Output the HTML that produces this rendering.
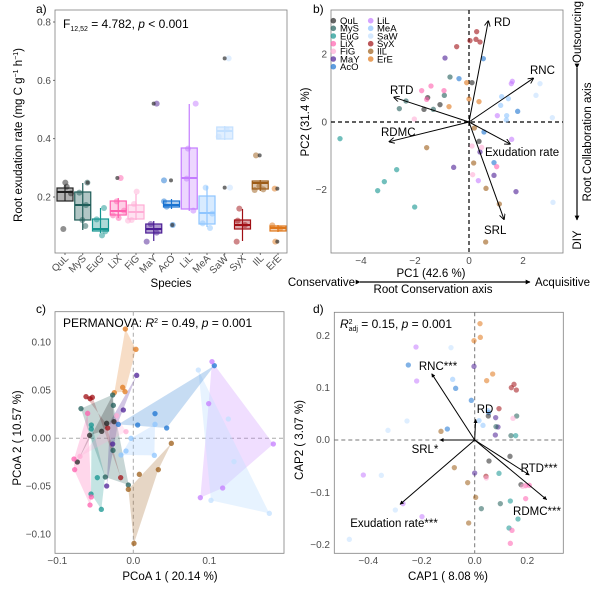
<!DOCTYPE html>
<html><head><meta charset="utf-8"><style>html,body{margin:0;padding:0;background:#fff}svg{display:block}text{font-family:"Liberation Sans",sans-serif}</style></head><body>
<svg width="600" height="595" viewBox="0 0 600 595" xmlns="http://www.w3.org/2000/svg">
<defs>
<marker id="ah" viewBox="0 0 10 10" refX="9" refY="5" markerWidth="6" markerHeight="6" orient="auto"><path d="M0,0 L10,5 L0,10" fill="none" stroke="#000" stroke-width="1.5"/></marker>
<marker id="ah2" viewBox="0 0 10 10" refX="9" refY="5" markerWidth="4" markerHeight="4" orient="auto"><path d="M0,0 L10,5 L0,10 z" fill="#000"/></marker>
</defs>
<!-- ============ PANEL A ============ -->
<text x="36" y="13" font-size="12">a)</text>
<rect x="55" y="10" width="232" height="243" fill="none" stroke="#7f7f7f" stroke-width="0.8"/>
<g font-size="10" fill="#4d4d4d" text-anchor="end">
<text x="51" y="25.5">0.8</text><text x="51" y="84">0.6</text><text x="51" y="142">0.4</text><text x="51" y="200.5">0.2</text></g>
<g stroke="#4d4d4d" stroke-width="0.8"><line x1="53" x2="55" y1="22" y2="22"/><line x1="53" x2="55" y1="80.3" y2="80.3"/><line x1="53" x2="55" y1="138.7" y2="138.7"/><line x1="53" x2="55" y1="197" y2="197"/></g>
<text transform="translate(22,135) rotate(-90)" font-size="11.5" text-anchor="middle">Root exudation rate (mg C g<tspan dy="-4" font-size="7">−1</tspan><tspan dy="4"> h</tspan><tspan dy="-4" font-size="7">−1</tspan><tspan dy="4">)</tspan></text>
<text x="63" y="28" font-size="12">F<tspan font-size="7" dy="3">12,52</tspan><tspan dy="-3"> = 4.782, </tspan><tspan font-style="italic">p</tspan> &lt; 0.001</text>
<g stroke-width="1.2">
<!-- x, top, bottom, median, wtop, wbot, color -->
<g stroke="#222" fill="rgba(34,34,34,0.35)"><line x1="65" x2="65" y1="185" y2="201"/><rect x="57" y="188" width="16" height="13"/><line x1="57" x2="73" y1="192" y2="192" stroke-width="2"/></g>
<g stroke="#1f5c58" fill="rgba(31,92,88,0.35)"><line x1="82.75" x2="82.75" y1="183" y2="230"/><rect x="74.75" y="192" width="16" height="28"/><line x1="74.75" x2="90.75" y1="205" y2="205" stroke-width="2"/></g>
<g stroke="#13948f" fill="rgba(19,148,143,0.35)"><line x1="100.5" x2="100.5" y1="208" y2="233"/><rect x="92.5" y="219" width="16" height="12"/><line x1="92.5" x2="108.5" y1="229" y2="229" stroke-width="2"/></g>
<g stroke="#ff5fae" fill="rgba(255,95,174,0.3)"><line x1="118.25" x2="118.25" y1="198" y2="218"/><rect x="110.25" y="201" width="16" height="14"/><line x1="110.25" x2="126.25" y1="211" y2="211" stroke-width="2"/></g>
<g stroke="#ffadd6" fill="rgba(255,173,214,0.35)"><line x1="136" x2="136" y1="194" y2="220"/><rect x="128" y="205" width="16" height="14"/><line x1="128" x2="144" y1="212" y2="212" stroke-width="2"/></g>
<g stroke="#4b1d94" fill="rgba(75,29,148,0.45)"><line x1="153.75" x2="153.75" y1="221" y2="241"/><rect x="145.75" y="224" width="16" height="9"/><line x1="145.75" x2="161.75" y1="229" y2="229" stroke-width="2"/></g>
<g stroke="#1a73d1" fill="rgba(26,115,209,0.35)"><line x1="171.5" x2="171.5" y1="199" y2="209"/><rect x="163.5" y="201" width="16" height="6"/><line x1="163.5" x2="179.5" y1="205" y2="205" stroke-width="2"/></g>
<g stroke="#c47cff" fill="rgba(196,124,255,0.3)"><line x1="189.25" x2="189.25" y1="104" y2="211"/><rect x="181.25" y="148" width="16" height="61"/><line x1="181.25" x2="197.25" y1="178" y2="178" stroke-width="2"/></g>
<g stroke="#8ec5ff" fill="rgba(142,197,255,0.35)"><line x1="207" x2="207" y1="186" y2="227"/><rect x="199" y="196" width="16" height="28"/><line x1="199" x2="215" y1="213" y2="213" stroke-width="2"/></g>
<g stroke="#c3e0ff" fill="rgba(195,224,255,0.5)"><line x1="224.75" x2="224.75" y1="126" y2="140"/><rect x="216.75" y="127" width="16" height="12"/><line x1="216.75" x2="232.75" y1="131" y2="131" stroke-width="2"/></g>
<g stroke="#a00f14" fill="rgba(160,15,20,0.35)"><line x1="242.5" x2="242.5" y1="209" y2="241"/><rect x="234.5" y="220" width="16" height="9"/><line x1="234.5" x2="250.5" y1="225" y2="225" stroke-width="2"/></g>
<g stroke="#9c5c16" fill="rgba(156,92,22,0.35)"><line x1="260.25" x2="260.25" y1="180" y2="191"/><rect x="252.25" y="181" width="16" height="8"/><line x1="252.25" x2="268.25" y1="183" y2="183" stroke-width="2"/></g>
<g stroke="#e0771a" fill="rgba(224,119,26,0.35)"><line x1="278" x2="278" y1="225" y2="232"/><rect x="270" y="226" width="16" height="5"/><line x1="270" x2="286" y1="228" y2="228" stroke-width="2"/></g>
</g>
<g transform="scale(0.33333)" fill-opacity="0.5">
<g fill="#222"><circle cx="196" cy="548" r="9"/><circle cx="213" cy="580" r="9"/><circle cx="190" cy="687" r="9"/><circle cx="200" cy="560" r="9"/></g>
<g fill="#1f5c58"><circle cx="262" cy="548" r="9"/><circle cx="238" cy="578" r="9"/><circle cx="258" cy="615" r="9"/><circle cx="247" cy="660" r="9"/><circle cx="256" cy="678" r="9"/></g>
<g fill="#13948f"><circle cx="312" cy="624" r="9"/><circle cx="290" cy="658" r="9"/><circle cx="306" cy="706" r="9"/><circle cx="316" cy="694" r="9"/></g>
<g fill="#ff5fae"><circle cx="362" cy="534" r="9"/><circle cx="350" cy="604" r="9"/><circle cx="372" cy="632" r="9"/><circle cx="356" cy="654" r="9"/><circle cx="339" cy="646" r="9"/></g>
<g fill="#ffadd6"><circle cx="410" cy="575" r="9"/><circle cx="402" cy="612" r="9"/><circle cx="395" cy="660" r="9"/><circle cx="384" cy="662" r="9"/></g>
<g fill="#4b1d94"><circle cx="470" cy="311" r="9"/><circle cx="440" cy="725" r="9"/><circle cx="452" cy="672" r="9"/><circle cx="470" cy="698" r="9"/></g>
<g fill="#1a73d1"><circle cx="492" cy="541" r="9"/><circle cx="492" cy="604" r="9"/><circle cx="518" cy="675" r="9"/><circle cx="500" cy="620" r="9"/></g>
<g fill="#c47cff"><circle cx="587" cy="311" r="9"/><circle cx="564" cy="446" r="9"/><circle cx="560" cy="536" r="9"/><circle cx="580" cy="632" r="9"/></g>
<g fill="#8ec5ff"><circle cx="617" cy="563" r="9"/><circle cx="630" cy="684" r="9"/><circle cx="608" cy="670" r="9"/><circle cx="637" cy="641" r="9"/></g>
<g fill="#c3e0ff"><circle cx="686" cy="175" r="9"/><circle cx="690" cy="563" r="9"/><circle cx="656" cy="410" r="9"/><circle cx="680" cy="388" r="9"/></g>
<g fill="#a00f14"><circle cx="718" cy="626" r="9"/><circle cx="710" cy="725" r="9"/><circle cx="735" cy="675" r="9"/><circle cx="713" cy="662" r="9"/></g>
<g fill="#9c5c16"><circle cx="768" cy="466" r="9"/><circle cx="790" cy="568" r="9"/><circle cx="764" cy="570" r="9"/><circle cx="778" cy="558" r="9"/></g>
<g fill="#e0771a"><circle cx="824" cy="566" r="9"/><circle cx="826" cy="725" r="9"/><circle cx="817" cy="676" r="9"/><circle cx="840" cy="686" r="9"/></g>
<g fill="#333" fill-opacity="0.7"><circle cx="263" cy="548" r="6"/><circle cx="352" cy="534" r="6"/><circle cx="461" cy="311" r="6"/><circle cx="513" cy="541" r="6"/><circle cx="517" cy="675" r="6"/><circle cx="674" cy="175" r="6"/><circle cx="674" cy="563" r="6"/><circle cx="779" cy="466" r="6"/><circle cx="832" cy="566" r="6"/><circle cx="832" cy="725" r="6"/></g>
</g>
<g stroke="#4d4d4d" stroke-width="0.8">
<line x1="65" x2="65" y1="253" y2="255"/><line x1="82.75" x2="82.75" y1="253" y2="255"/><line x1="100.5" x2="100.5" y1="253" y2="255"/><line x1="118.25" x2="118.25" y1="253" y2="255"/><line x1="136" x2="136" y1="253" y2="255"/><line x1="153.75" x2="153.75" y1="253" y2="255"/><line x1="171.5" x2="171.5" y1="253" y2="255"/><line x1="189.25" x2="189.25" y1="253" y2="255"/><line x1="207" x2="207" y1="253" y2="255"/><line x1="224.75" x2="224.75" y1="253" y2="255"/><line x1="242.5" x2="242.5" y1="253" y2="255"/><line x1="260.25" x2="260.25" y1="253" y2="255"/><line x1="278" x2="278" y1="253" y2="255"/></g>
<g font-size="10" fill="#4d4d4d" text-anchor="end">
<text transform="translate(69,259) rotate(-45)">QuL</text><text transform="translate(86.75,259) rotate(-45)">MyS</text><text transform="translate(104.5,259) rotate(-45)">EuG</text><text transform="translate(122.25,259) rotate(-45)">LiX</text><text transform="translate(140,259) rotate(-45)">FiG</text><text transform="translate(157.75,259) rotate(-45)">MaY</text><text transform="translate(175.5,259) rotate(-45)">AcO</text><text transform="translate(193.25,259) rotate(-45)">LiL</text><text transform="translate(211,259) rotate(-45)">MeA</text><text transform="translate(228.75,259) rotate(-45)">SaW</text><text transform="translate(246.5,259) rotate(-45)">SyX</text><text transform="translate(264.25,259) rotate(-45)">IlL</text><text transform="translate(282,259) rotate(-45)">ErE</text></g>
<text x="171" y="287" font-size="11.5" text-anchor="middle">Species</text>

<!-- ============ PANEL B ============ -->
<text x="313" y="13" font-size="12">b)</text>
<rect x="331" y="10" width="232" height="243" fill="none" stroke="#7f7f7f" stroke-width="0.8"/>
<g stroke="#000" stroke-width="1.2" stroke-dasharray="4,3"><line x1="331" x2="563" y1="122" y2="122"/><line x1="469" x2="469" y1="10" y2="253"/></g>
<g transform="translate(300,0) scale(0.33333)" fill-opacity="0.6">
<g fill="#a00f14"><circle cx="530" cy="95" r="8"/><circle cx="510" cy="122" r="8"/><circle cx="528" cy="118" r="8"/><circle cx="540" cy="126" r="8"/><circle cx="470" cy="140" r="8"/></g>
<g fill="#1a73d1"><circle cx="550" cy="176" r="8"/><circle cx="477" cy="236" r="8"/><circle cx="582" cy="488" r="8"/><circle cx="552" cy="396" r="8"/><circle cx="653" cy="334" r="8"/></g>
<g fill="#4b1d94"><circle cx="435" cy="174" r="8"/><circle cx="461" cy="502" r="8"/><circle cx="582" cy="526" r="8"/><circle cx="648" cy="575" r="8"/><circle cx="540" cy="456" r="8"/></g>
<g fill="#1f5c58"><circle cx="450" cy="231" r="8"/><circle cx="298" cy="326" r="8"/><circle cx="318" cy="303" r="8"/><circle cx="433" cy="286" r="8"/><circle cx="400" cy="328" r="8"/></g>
<g fill="#222"><circle cx="516" cy="248" r="8"/><circle cx="383" cy="293" r="8"/><circle cx="420" cy="314" r="8"/><circle cx="372" cy="328" r="8"/><circle cx="537" cy="424" r="8"/></g>
<g fill="#ff5fae"><circle cx="365" cy="272" r="8"/><circle cx="393" cy="258" r="8"/><circle cx="432" cy="272" r="8"/><circle cx="380" cy="298" r="8"/><circle cx="590" cy="500" r="8"/></g>
<g fill="#ffadd6"><circle cx="343" cy="357" r="8"/><circle cx="516" cy="438" r="8"/><circle cx="518" cy="524" r="8"/><circle cx="545" cy="442" r="8"/></g>
<g fill="#9c5c16"><circle cx="380" cy="443" r="8"/><circle cx="521" cy="489" r="8"/><circle cx="558" cy="565" r="8"/><circle cx="598" cy="612" r="8"/><circle cx="557" cy="726" r="8"/><circle cx="523" cy="384" r="8"/></g>
<g fill="#e0771a"><circle cx="500" cy="248" r="8"/><circle cx="507" cy="297" r="8"/><circle cx="537" cy="305" r="8"/><circle cx="447" cy="320" r="8"/></g>
<g fill="#c47cff"><circle cx="637" cy="244" r="8"/><circle cx="634" cy="251" r="8"/><circle cx="592" cy="347" r="8"/><circle cx="635" cy="418" r="8"/><circle cx="535" cy="542" r="8"/></g>
<g fill="#8ec5ff"><circle cx="605" cy="290" r="8"/><circle cx="625" cy="296" r="8"/><circle cx="602" cy="316" r="8"/><circle cx="620" cy="347" r="8"/><circle cx="619" cy="360" r="8"/></g>
<g fill="#c3e0ff"><circle cx="720" cy="251" r="8"/><circle cx="708" cy="286" r="8"/><circle cx="757" cy="353" r="8"/><circle cx="759" cy="607" r="8"/></g>
<g fill="#13948f"><circle cx="120" cy="416" r="8"/><circle cx="290" cy="509" r="8"/><circle cx="253" cy="545" r="8"/><circle cx="233" cy="572" r="8"/><circle cx="344" cy="621" r="8"/></g>
</g>
<g stroke="#000" stroke-width="1" marker-end="url(#ah)" fill="none">
<line x1="469" y1="122" x2="488.3" y2="21"/><line x1="469" y1="122" x2="533.3" y2="78.3"/><line x1="469" y1="122" x2="394" y2="97.3"/><line x1="469" y1="122" x2="389.3" y2="141.7"/><line x1="469" y1="122" x2="510" y2="144"/><line x1="469" y1="122" x2="504" y2="219.3"/></g>
<g font-size="11.5"><text x="494" y="26">RD</text><text x="530" y="74">RNC</text><text x="390" y="94">RTD</text><text x="381" y="136">RDMC</text><text x="485" y="156">Exudation rate</text><text x="484" y="234">SRL</text></g>
<g font-size="9.5">
<g fill-opacity="0.7"><circle cx="333.3" cy="20.7" r="2.8" fill="#222"/><circle cx="333.3" cy="28.3" r="2.8" fill="#1f5c58"/><circle cx="333.3" cy="36" r="2.8" fill="#13948f"/><circle cx="333.3" cy="43.7" r="2.8" fill="#ff5fae"/><circle cx="333.3" cy="51.3" r="2.8" fill="#ffadd6"/><circle cx="333.3" cy="59" r="2.8" fill="#4b1d94"/><circle cx="333.3" cy="66.7" r="2.8" fill="#1a73d1"/>
<circle cx="370.7" cy="20.7" r="2.8" fill="#c47cff"/><circle cx="370.7" cy="28.3" r="2.8" fill="#8ec5ff"/><circle cx="370.7" cy="36" r="2.8" fill="#c3e0ff"/><circle cx="370.7" cy="43.7" r="2.8" fill="#a00f14"/><circle cx="370.7" cy="51.3" r="2.8" fill="#9c5c16"/><circle cx="370.7" cy="59" r="2.8" fill="#e0771a"/></g>
<text x="340" y="24">QuL</text><text x="340" y="31.7">MyS</text><text x="340" y="39.3">EuG</text><text x="340" y="47">LiX</text><text x="340" y="54.7">FiG</text><text x="340" y="62.3">MaY</text><text x="340" y="70">AcO</text>
<text x="377" y="24">LiL</text><text x="377" y="31.7">MeA</text><text x="377" y="39.3">SaW</text><text x="377" y="47">SyX</text><text x="377" y="54.7">IlL</text><text x="377" y="62.3">ErE</text></g>
<g font-size="10" fill="#4d4d4d"><g text-anchor="end"><text x="327" y="57.5">2</text><text x="327" y="125.5">0</text><text x="327" y="193">−2</text></g>
<g text-anchor="middle"><text x="361" y="264">−4</text><text x="415" y="264">−2</text><text x="469" y="264">0</text><text x="523" y="264">2</text></g></g>
<text transform="translate(309,122) rotate(-90)" font-size="11.5" text-anchor="middle">PC2 (31.4 %)</text>
<text x="431" y="277" font-size="11.5" text-anchor="middle">PC1 (42.6 %)</text>
<text x="355" y="286" font-size="11.5" text-anchor="end">Conservative</text>
<text x="535" y="286" font-size="11.5">Acquisitive</text>
<text x="433" y="293" font-size="11.5" text-anchor="middle">Root Conservation axis</text>
<line x1="360" y1="282" x2="530" y2="282" stroke="#000" stroke-width="1.2" marker-end="url(#ah2)" marker-start="url(#ah2)"/>
<line x1="577" y1="68" x2="577" y2="220" stroke="#000" stroke-width="1.2" marker-end="url(#ah2)" marker-start="url(#ah2)"/>
<text transform="translate(581,32) rotate(-90)" font-size="11.5" text-anchor="middle">Outsourcing</text>
<text transform="translate(581,240) rotate(-90)" font-size="11.5" text-anchor="middle">DIY</text>
<text transform="translate(591,142) rotate(-90)" font-size="11.5" text-anchor="middle">Root Collaboration axis</text>

<!-- ============ PANEL C ============ -->
<text x="36" y="313" font-size="12">c)</text>
<rect x="55" y="311.7" width="229" height="241.6" fill="none" stroke="#7f7f7f" stroke-width="0.8"/>
<g stroke="#aaa" stroke-width="1" stroke-dasharray="4,3"><line x1="55" x2="284" y1="438.3" y2="438.3"/><line x1="133.3" x2="133.3" y1="311.7" y2="553.3"/></g>
<g transform="translate(0,295) scale(0.33333)">
<g fill-opacity="0.25">
<polygon fill="#c47cff" points="636,200 820,447 668,579 601,608 626,326"/>
<polygon fill="#c3e0ff" fill-opacity="0.4" points="595,225 808,655 633,616"/>
<polygon fill="#1a73d1" points="643,212 355,388 500,399"/>
<polygon fill="#8ec5ff" points="465,388 463,481 363,480 393,430"/>
<polygon fill="#e0771a" points="376,102 408,163 375,290 343,293"/>
<polygon fill="#4b1d94" points="410,241 355,380 320,573 330,380"/>
<polygon fill="#9c5c16" points="514,445 475,524 402,745 385,583"/>
<polygon fill="#a00f14" points="258,305 278,307 362,548 318,386"/>
<polygon fill="#1f5c58" points="243,341 340,298 340,330 386,570 315,546 268,418"/>
<polygon fill="#13948f" points="275,388 315,546 304,643 273,596"/>
<polygon fill="#222" points="232,501 338,300 342,380 305,409 268,421"/>
<polygon fill="#ff5fae" points="222,492 263,355 274,606 270,630 222,524"/>
<polygon fill="#ffadd6" points="240,484 350,362 378,410"/>
</g>
<g fill-opacity="0.75">
<g fill="#e0771a"><circle cx="376" cy="102" r="8"/><circle cx="408" cy="163" r="8"/><circle cx="368" cy="277" r="8"/><circle cx="375" cy="290" r="8"/><circle cx="343" cy="293" r="8"/></g>
<g fill="#4b1d94"><circle cx="410" cy="241" r="8"/><circle cx="370" cy="345" r="8"/><circle cx="338" cy="447" r="8"/><circle cx="320" cy="573" r="8"/></g>
<g fill="#a00f14"><circle cx="258" cy="305" r="8"/><circle cx="270" cy="311" r="8"/><circle cx="277" cy="307" r="8"/><circle cx="323" cy="399" r="8"/><circle cx="362" cy="548" r="8"/></g>
<g fill="#1f5c58"><circle cx="338" cy="300" r="8"/><circle cx="340" cy="331" r="8"/><circle cx="243" cy="341" r="8"/><circle cx="316" cy="546" r="8"/><circle cx="385" cy="570" r="8"/><circle cx="339" cy="466" r="8"/></g>
<g fill="#13948f"><circle cx="274" cy="390" r="8"/><circle cx="274" cy="402" r="8"/><circle cx="292" cy="548" r="8"/><circle cx="273" cy="597" r="8"/><circle cx="304" cy="643" r="8"/></g>
<g fill="#222"><circle cx="269" cy="421" r="8"/><circle cx="305" cy="409" r="8"/><circle cx="342" cy="380" r="8"/><circle cx="232" cy="501" r="8"/><circle cx="320" cy="385" r="8"/></g>
<g fill="#ff5fae"><circle cx="263" cy="355" r="8"/><circle cx="222" cy="492" r="8"/><circle cx="224" cy="524" r="8"/><circle cx="274" cy="606" r="8"/><circle cx="270" cy="630" r="8"/></g>
<g fill="#ffadd6"><circle cx="240" cy="484" r="8"/><circle cx="350" cy="362" r="8"/><circle cx="378" cy="410" r="8"/></g>
<g fill="#1a73d1"><circle cx="355" cy="388" r="8"/><circle cx="413" cy="390" r="8"/><circle cx="465" cy="356" r="8"/><circle cx="500" cy="399" r="8"/><circle cx="643" cy="212" r="8"/></g>
<g fill="#8ec5ff"><circle cx="465" cy="388" r="8"/><circle cx="393" cy="430" r="8"/><circle cx="378" cy="468" r="8"/><circle cx="363" cy="480" r="8"/><circle cx="463" cy="481" r="8"/></g>
<g fill="#c47cff"><circle cx="636" cy="200" r="8"/><circle cx="626" cy="326" r="8"/><circle cx="820" cy="447" r="8"/><circle cx="668" cy="579" r="8"/><circle cx="601" cy="608" r="8"/></g>
<g fill="#c3e0ff"><circle cx="595" cy="225" r="8"/><circle cx="685" cy="372" r="8"/><circle cx="702" cy="500" r="8"/><circle cx="633" cy="616" r="8"/><circle cx="808" cy="655" r="8"/></g>
<g fill="#9c5c16"><circle cx="514" cy="445" r="8"/><circle cx="475" cy="524" r="8"/><circle cx="418" cy="538" r="8"/><circle cx="385" cy="583" r="8"/><circle cx="402" cy="745" r="8"/></g>
</g></g>
<text x="63" y="327" font-size="12">PERMANOVA: <tspan font-style="italic">R</tspan><tspan dy="-4" font-size="7">2</tspan><tspan dy="4"> = 0.49, </tspan><tspan font-style="italic">p</tspan> = 0.001</text>
<g font-size="10" fill="#4d4d4d"><g text-anchor="end"><text x="51" y="345.5">0.10</text><text x="51" y="393.5">0.05</text><text x="51" y="441.5">0.00</text><text x="51" y="489.5">−0.05</text><text x="51" y="537.5">−0.10</text></g>
<g text-anchor="middle"><text x="57.3" y="564">−0.1</text><text x="133.3" y="564">0.0</text><text x="209.3" y="564">0.1</text></g></g>
<text transform="translate(21,438) rotate(-90)" font-size="11.5" text-anchor="middle">PCoA 2 ( 10.57 %)</text>
<text x="170" y="580" font-size="11.5" text-anchor="middle">PCoA 1 ( 20.14 %)</text>

<!-- ============ PANEL D ============ -->
<text x="313" y="313" font-size="12">d)</text>
<rect x="334.3" y="312.3" width="229" height="241" fill="none" stroke="#7f7f7f" stroke-width="0.8"/>
<g stroke="#777" stroke-width="1" stroke-dasharray="4,3"><line x1="334.3" x2="563.3" y1="440" y2="440"/><line x1="474.7" x2="474.7" y1="312.3" y2="553.3"/></g>
<g transform="translate(300,295) scale(0.33333)" fill-opacity="0.55">
<g fill="#e0771a"><circle cx="540" cy="86" r="8"/><circle cx="541" cy="127" r="8"/><circle cx="522" cy="137" r="8"/><circle cx="578" cy="237" r="8"/><circle cx="560" cy="257" r="8"/></g>
<g fill="#9c5c16"><circle cx="423" cy="409" r="8"/><circle cx="463" cy="518" r="8"/><circle cx="503" cy="563" r="8"/><circle cx="527" cy="607" r="8"/><circle cx="506" cy="684" r="8"/></g>
<g fill="#a00f14"><circle cx="642" cy="268" r="8"/><circle cx="634" cy="278" r="8"/><circle cx="649" cy="285" r="8"/><circle cx="597" cy="341" r="8"/><circle cx="558" cy="544" r="8"/></g>
<g fill="#4b1d94"><circle cx="522" cy="214" r="8"/><circle cx="587" cy="368" r="8"/><circle cx="594" cy="396" r="8"/><circle cx="586" cy="420" r="8"/><circle cx="524" cy="534" r="8"/></g>
<g fill="#1a73d1"><circle cx="325" cy="210" r="8"/><circle cx="467" cy="280" r="8"/><circle cx="514" cy="316" r="8"/><circle cx="442" cy="402" r="8"/><circle cx="566" cy="353" r="8"/></g>
<g fill="#8ec5ff"><circle cx="458" cy="253" r="8"/><circle cx="537" cy="377" r="8"/><circle cx="549" cy="391" r="8"/><circle cx="564" cy="347" r="8"/></g>
<g fill="#c3e0ff"><circle cx="453" cy="158" r="8"/><circle cx="321" cy="378" r="8"/><circle cx="264" cy="406" r="8"/><circle cx="244" cy="541" r="8"/><circle cx="286" cy="645" r="8"/><circle cx="148" cy="733" r="8"/></g>
<g fill="#c47cff"><circle cx="348" cy="156" r="8"/><circle cx="350" cy="258" r="8"/><circle cx="190" cy="540" r="8"/><circle cx="309" cy="626" r="8"/><circle cx="366" cy="665" r="8"/></g>
<g fill="#222"><circle cx="565" cy="363" r="8"/><circle cx="567" cy="498" r="8"/><circle cx="630" cy="484" r="8"/><circle cx="663" cy="569" r="8"/></g>
<g fill="#1f5c58"><circle cx="588" cy="395" r="8"/><circle cx="633" cy="422" r="8"/><circle cx="650" cy="363" r="8"/><circle cx="544" cy="641" r="8"/><circle cx="601" cy="626" r="8"/></g>
<g fill="#13948f"><circle cx="647" cy="422" r="8"/><circle cx="597" cy="535" r="8"/><circle cx="631" cy="618" r="8"/><circle cx="654" cy="672" r="8"/><circle cx="627" cy="699" r="8"/></g>
<g fill="#ff5fae"><circle cx="677" cy="572" r="8"/><circle cx="688" cy="571" r="8"/><circle cx="636" cy="706" r="8"/><circle cx="631" cy="745" r="8"/><circle cx="677" cy="611" r="8"/></g>
<g fill="#ffadd6"><circle cx="639" cy="370" r="8"/><circle cx="668" cy="574" r="8"/><circle cx="559" cy="549" r="8"/></g>
</g>
<g stroke="#000" stroke-width="1" marker-end="url(#ah2)" fill="none" transform="translate(300,295) scale(0.33333)">
<line x1="524" y1="435" x2="395" y2="236" stroke-width="3"/><line x1="524" y1="435" x2="527" y2="373" stroke-width="3"/><line x1="524" y1="435" x2="420" y2="435" stroke-width="3"/><line x1="524" y1="435" x2="688" y2="540" stroke-width="3"/><line x1="524" y1="435" x2="740" y2="614" stroke-width="3"/><line x1="524" y1="435" x2="300" y2="628" stroke-width="3"/></g>
<g font-size="11.5" text-anchor="middle"><text x="438" y="370">RNC***</text><text x="485" y="413">RD</text><text x="425" y="453">SRL*</text><text x="539" y="472">RTD***</text><text x="537" y="515">RDMC***</text><text x="394" y="527">Exudation rate***</text></g>
<text x="340" y="328" font-size="12"><tspan font-style="italic">R</tspan><tspan dy="-4" font-size="7">2</tspan><tspan dy="7" dx="-4" font-size="7">adj</tspan><tspan dy="-3"> = 0.15, </tspan><tspan font-style="italic">p</tspan> = 0.001</text>
<g font-size="10" fill="#4d4d4d"><g text-anchor="end"><text x="330" y="339">0.2</text><text x="330" y="391">0.1</text><text x="330" y="443">0.0</text><text x="330" y="496">−0.1</text><text x="330" y="548">−0.2</text></g>
<g text-anchor="middle"><text x="368.3" y="564">−0.4</text><text x="421.7" y="564">−0.2</text><text x="474.7" y="564">0.0</text><text x="527.3" y="564">0.2</text></g></g>
<text transform="translate(303,440) rotate(-90)" font-size="11.5" text-anchor="middle">CAP2 ( 3.07 %)</text>
<text x="448" y="580" font-size="11.5" text-anchor="middle">CAP1 ( 8.08 %)</text>
</svg>
</body></html>
